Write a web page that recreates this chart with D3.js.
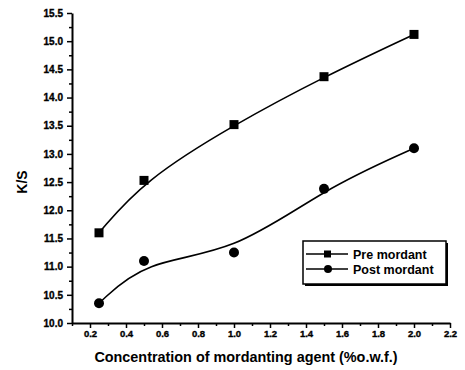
<!DOCTYPE html>
<html>
<head>
<meta charset="utf-8">
<script src="https://cdn.jsdelivr.net/npm/d3@7"></script>
<style>
  body { margin: 0; background: #fff; }
  svg { display: block; font-family: "Liberation Sans", Arial, sans-serif; }
  .tick text { font-weight: bold; }
</style>
</head>
<body>
<div id="chart"></div>
<script>
// data
var conc = [0.25, 0.5, 1.0, 1.5, 2.0];
var preMordant = [11.6, 12.53, 13.52, 14.37, 15.12];
var postMordant = [10.35, 11.1, 11.25, 12.38, 13.1];
var xTicks = [0.2, 0.4, 0.6, 0.8, 1.0, 1.2, 1.4, 1.6, 1.8, 2.0, 2.2];
var yTicks = [10.0, 10.5, 11.0, 11.5, 12.0, 12.5, 13.0, 13.5, 14.0, 14.5, 15.0, 15.5];

var W = 465, H = 370;
var svg = d3.select("#chart").append("svg")
    .attr("width", W).attr("height", H);

var x = d3.scaleLinear().domain([0.1, 2.2]).range([72, 450]);
var y = d3.scaleLinear().domain([10, 15.5]).range([323, 13]);

// minor ticks first (no labels)
var xMinor = d3.range(0.1, 2.21, 0.1).filter(function(v){ return Math.abs(v*10 % 2 - 1) < 0.01; });
var yMinor = d3.range(10.25, 15.5, 0.5);

svg.append("g")
    .attr("transform", "translate(0,323)")
    .call(d3.axisBottom(x).tickValues(xMinor).tickSize(3).tickFormat(""))
    .call(function(g){ g.select(".domain").remove(); g.selectAll("line").attr("stroke-width", 1.5); });
svg.append("g")
    .attr("transform", "translate(72,0)")
    .call(d3.axisLeft(y).tickValues(yMinor).tickSize(3).tickFormat(""))
    .call(function(g){ g.select(".domain").remove(); g.selectAll("line").attr("stroke-width", 1.5); });

var xAxis = svg.append("g")
    .attr("transform", "translate(0,323)")
    .call(d3.axisBottom(x).tickValues(xTicks).tickSize(5).tickSizeOuter(0).tickFormat(d3.format(".1f")));
xAxis.selectAll("text").attr("font-size", 9.5).attr("y", 7)
    .attr("stroke", "#000").attr("stroke-width", 0.35);
xAxis.select(".domain").attr("stroke-width", 2);
xAxis.selectAll("line").attr("stroke-width", 1.5);

var yAxis = svg.append("g")
    .attr("transform", "translate(72,0)")
    .call(d3.axisLeft(y).tickValues(yTicks).tickSize(5).tickSizeOuter(0).tickFormat(d3.format(".1f")));
yAxis.selectAll("text").attr("font-size", 10).attr("x", -9)
    .attr("stroke", "#000").attr("stroke-width", 0.35);
yAxis.select(".domain").attr("stroke-width", 2);
yAxis.selectAll("line").attr("stroke-width", 1.5);

// axis titles
svg.append("text")
    .attr("x", 246).attr("y", 362)
    .attr("text-anchor", "middle")
    .attr("font-size", 14.4).attr("font-weight", "bold")
    .text("Concentration of mordanting agent (%o.w.f.)");
svg.append("text")
    .attr("transform", "translate(27,182) rotate(-90)")
    .attr("text-anchor", "middle")
    .attr("font-size", 14).attr("font-weight", "bold")
    .text("K/S");

var line = d3.line()
    .x(function(d){ return x(d[0]); })
    .y(function(d){ return y(d[1]); })
    .curve(d3.curveBasis);

var preData = conc.map(function(c, i){ return [c, preMordant[i]]; });
var postData = conc.map(function(c, i){ return [c, postMordant[i]]; });

svg.append("path").datum(preData).attr("d", line)
    .attr("fill", "none").attr("stroke", "#000").attr("stroke-width", 1.6);
svg.append("path").datum(postData).attr("d", line)
    .attr("fill", "none").attr("stroke", "#000").attr("stroke-width", 1.6);

svg.append("g").selectAll("rect")
    .data(preData).enter().append("rect")
    .attr("x", function(d){ return x(d[0]) - 4.5; })
    .attr("y", function(d){ return y(d[1]) - 4.5; })
    .attr("width", 9).attr("height", 9)
    .attr("fill", "#000");

svg.append("g").selectAll("circle")
    .data(postData).enter().append("circle")
    .attr("cx", function(d){ return x(d[0]); })
    .attr("cy", function(d){ return y(d[1]); })
    .attr("r", 5)
    .attr("fill", "#000");

// legend
var leg = svg.append("g").attr("transform", "translate(303,241)");
leg.append("rect").attr("x", 2).attr("y", 2).attr("width", 143).attr("height", 43).attr("fill", "#000");
leg.append("rect").attr("width", 143).attr("height", 43)
    .attr("fill", "#fff").attr("stroke", "#000").attr("stroke-width", 1.5);

var items = [{name: "Pre mordant", shape: "square"}, {name: "Post mordant", shape: "circle"}];
items.forEach(function(it, i){
  var cy = 13 + i * 15;
  leg.append("line").attr("x1", 3).attr("x2", 45).attr("y1", cy).attr("y2", cy)
      .attr("stroke", "#000").attr("stroke-width", 1.5);
  if (it.shape == "square") {
    leg.append("rect").attr("x", 21).attr("y", cy - 3.5).attr("width", 7).attr("height", 7).attr("fill", "#000");
  } else {
    leg.append("circle").attr("cx", 25).attr("cy", cy).attr("r", 4).attr("fill", "#000");
  }
  leg.append("text").attr("x", 50).attr("y", cy + 4.5)
      .attr("font-size", 12.5).attr("font-weight", "bold")
      .text(it.name);
});
</script>
</body>
</html>
